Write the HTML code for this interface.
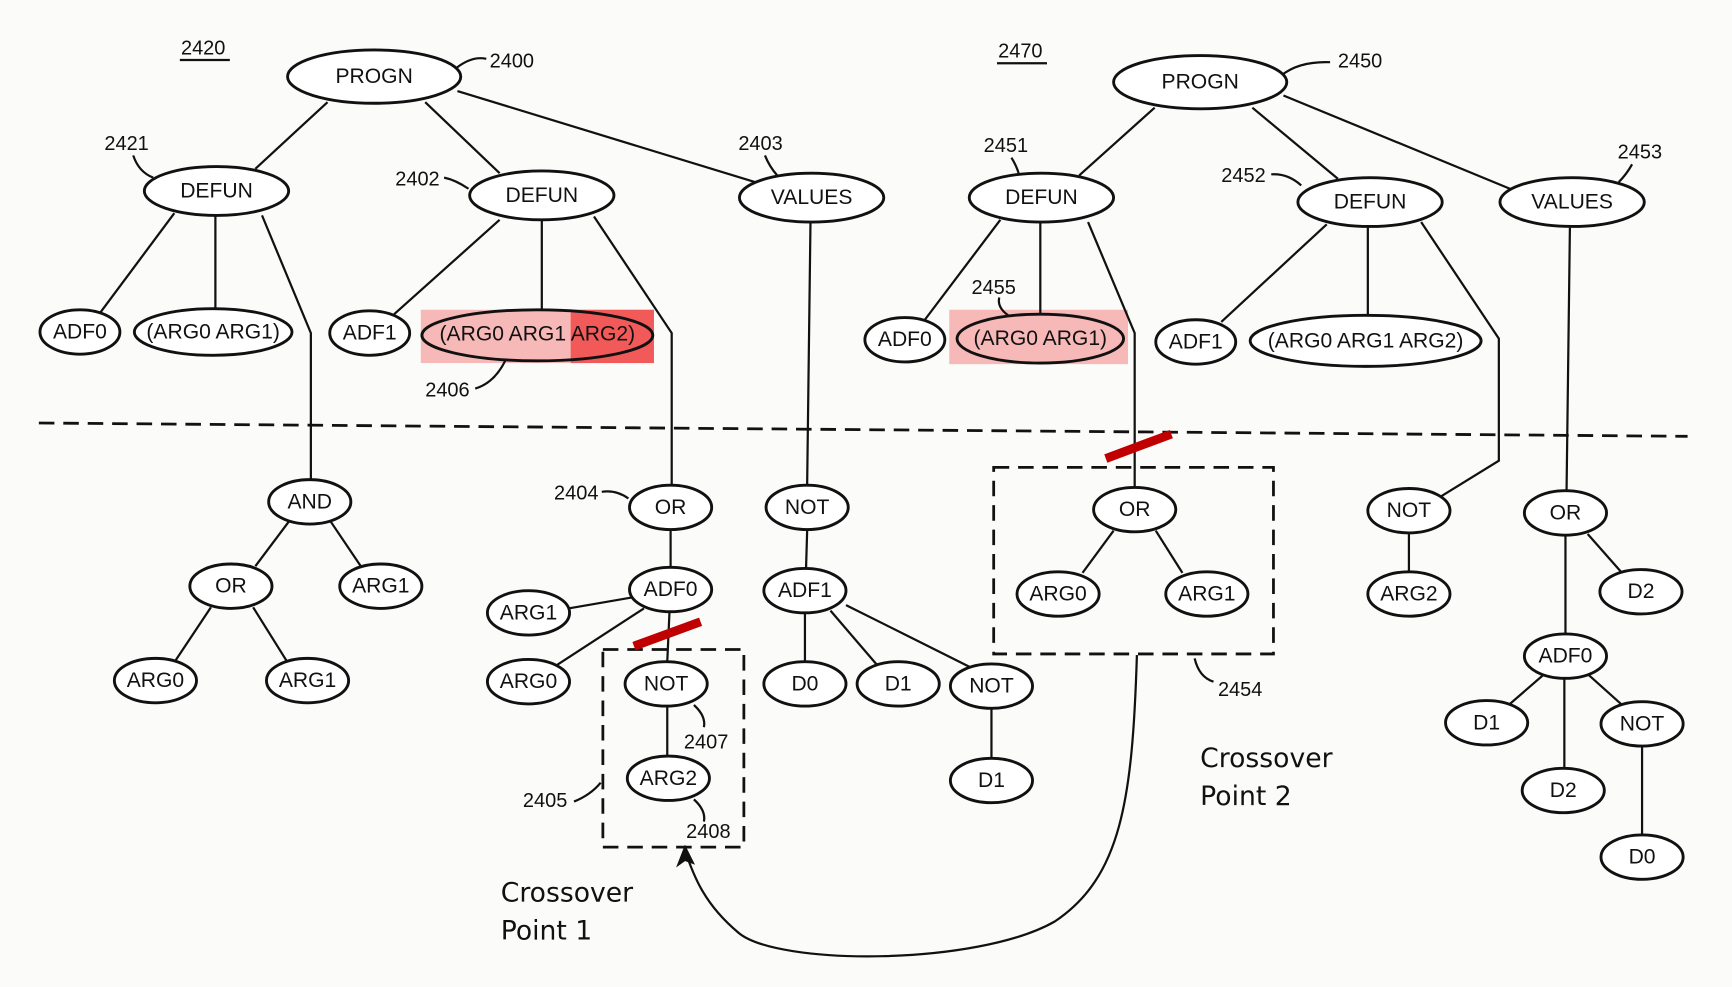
<!DOCTYPE html>
<html><head><style>
html,body{margin:0;padding:0;background:#fbfbf9;}
svg{display:block;}
text{font-family:"Liberation Sans",sans-serif;fill:#111;}
.n{font-size:19px;text-anchor:middle;dominant-baseline:central;}
.l{font-size:18px;}
.c{font-family:"DejaVu Sans","Liberation Sans",sans-serif;font-size:24px;}
ellipse{fill:#fff;stroke:#111;stroke-width:2.6;}
line,path,polyline{stroke:#111;stroke-width:2;fill:none;}
</style></head><body>
<svg width="1732" height="987" viewBox="0 0 1560 889" preserveAspectRatio="none" xmlns="http://www.w3.org/2000/svg">
<rect width="1560" height="889" fill="#fbfbf9"/>
<!-- highlights -->
<rect x="379" y="279" width="210" height="48" fill="#f7b8b8"/>
<rect x="514" y="279" width="75" height="48" fill="#f25a5a"/>
<rect x="855" y="279" width="161" height="49" fill="#f7b8b8"/>
<!-- dashed separator -->
<line x1="35" y1="381" x2="1520" y2="393" stroke-dasharray="14,8" style="stroke-width:2.5"/>
<!-- boxes -->
<rect x="543" y="585" width="127" height="178" stroke="#111" stroke-width="2.5" fill="none" stroke-dasharray="14,8"/>
<rect x="895" y="421" width="252" height="168" stroke="#111" stroke-width="2.5" fill="none" stroke-dasharray="14,8"/>
<!-- edges left -->
<line x1="295" y1="92" x2="230" y2="152"/>
<line x1="383" y1="92" x2="450" y2="156"/>
<line x1="412" y1="82" x2="680" y2="164"/>
<line x1="157" y1="192" x2="90" y2="282"/>
<line x1="194" y1="194" x2="194" y2="278"/>
<polyline points="236,194 280,300 280,432"/>
<line x1="450" y1="198" x2="355" y2="283"/>
<line x1="488" y1="198" x2="488" y2="279"/>
<polyline points="535,195 605,300 605,436"/>
<line x1="730" y1="200" x2="727" y2="436"/>
<line x1="260" y1="470" x2="230" y2="510"/>
<line x1="298" y1="470" x2="325" y2="510"/>
<line x1="190" y1="547" x2="158" y2="595"/>
<line x1="228" y1="547" x2="258" y2="595"/>
<line x1="604" y1="478" x2="604" y2="511"/>
<line x1="570" y1="538" x2="512" y2="548"/>
<line x1="580" y1="548" x2="500" y2="600"/>
<line x1="603" y1="551" x2="601" y2="596"/>
<line x1="601" y1="636" x2="601" y2="681"/>
<line x1="727" y1="478" x2="726" y2="512"/>
<line x1="725" y1="553" x2="725" y2="596"/>
<line x1="748" y1="550" x2="790" y2="599"/>
<line x1="762" y1="545" x2="876" y2="602"/>
<line x1="893" y1="639" x2="893" y2="683"/>
<!-- edges right -->
<line x1="1040" y1="97" x2="972" y2="158"/>
<line x1="1128" y1="97" x2="1205" y2="161"/>
<line x1="1156" y1="86" x2="1360" y2="170"/>
<line x1="901" y1="198" x2="833" y2="288"/>
<line x1="937" y1="200" x2="937" y2="284"/>
<polyline points="980,200 1022,300 1022,438"/>
<line x1="1195" y1="202" x2="1100" y2="290"/>
<line x1="1232" y1="204" x2="1232" y2="285"/>
<polyline points="1280,200 1350,305 1350,415 1298,447"/>
<line x1="1414" y1="205" x2="1411" y2="441"/>
<line x1="1003" y1="478" x2="975" y2="516"/>
<line x1="1041" y1="478" x2="1065" y2="516"/>
<line x1="1269" y1="481" x2="1269" y2="515"/>
<line x1="1410" y1="483" x2="1410" y2="571"/>
<line x1="1430" y1="481" x2="1460" y2="515"/>
<line x1="1390" y1="608" x2="1360" y2="634"/>
<line x1="1409" y1="612" x2="1409" y2="692"/>
<line x1="1431" y1="608" x2="1460" y2="634"/>
<line x1="1479" y1="673" x2="1479" y2="752"/>
<!-- red slashes -->
<line x1="571" y1="582" x2="631" y2="560" style="stroke:#c00000;stroke-width:8"/>
<line x1="996" y1="413" x2="1055" y2="391" style="stroke:#c00000;stroke-width:8"/>
<!-- crossover arrow -->
<path d="M1024,590 C1020,720 1010,790 950,830 C880,870 700,870 665,840 C635,815 625,790 617,766"/>
<path d="M617,762 L610,780 L617,775 L625,778 Z" style="fill:#111;stroke-width:1"/>
<!-- leaders -->
<path d="M410,62 Q425,50 438,53"/>
<path d="M120,140 Q125,155 138,160"/>
<path d="M400,160 Q410,162 422,170"/>
<path d="M689,140 Q693,150 700,158"/>
<path d="M428,350 Q445,345 455,325"/>
<path d="M542,443 Q555,441 566,449"/>
<path d="M625,635 Q636,645 634,655"/>
<path d="M625,720 Q636,730 634,740"/>
<path d="M517,722 Q532,716 541,705"/>
<path d="M1154,68 Q1170,55 1198,56"/>
<path d="M911,142 Q916,150 918,158"/>
<path d="M1145,157 Q1160,156 1172,167"/>
<path d="M1470,148 Q1465,157 1458,164"/>
<path d="M900,268 Q898,277 908,284"/>
<path d="M1076,593 Q1080,610 1093,614"/>
<!-- nodes -->
<g>
<ellipse cx="337" cy="69" rx="78" ry="24"/><text class="n" x="337" y="69">PROGN</text>
<ellipse cx="195" cy="172" rx="65" ry="22"/><text class="n" x="195" y="172">DEFUN</text>
<ellipse cx="488" cy="176" rx="65" ry="22"/><text class="n" x="488" y="176">DEFUN</text>
<ellipse cx="731" cy="178" rx="65" ry="22"/><text class="n" x="731" y="178">VALUES</text>
<ellipse cx="72" cy="299" rx="36" ry="20"/><text class="n" x="72" y="299">ADF0</text>
<ellipse cx="192" cy="299" rx="71" ry="21"/><text class="n" x="192" y="299">(ARG0 ARG1)</text>
<ellipse cx="333" cy="300" rx="36" ry="20"/><text class="n" x="333" y="300">ADF1</text>
<ellipse cx="484" cy="302" rx="104" ry="23" fill="none" style="fill:none"/><text class="n" x="484" y="301">(ARG0 ARG1 ARG2)</text>
<ellipse cx="279" cy="452" rx="37" ry="20"/><text class="n" x="279" y="452">AND</text>
<ellipse cx="208" cy="528" rx="37" ry="20"/><text class="n" x="208" y="528">OR</text>
<ellipse cx="343" cy="528" rx="37" ry="20"/><text class="n" x="343" y="528">ARG1</text>
<ellipse cx="140" cy="613" rx="37" ry="20"/><text class="n" x="140" y="613">ARG0</text>
<ellipse cx="277" cy="613" rx="37" ry="20"/><text class="n" x="277" y="613">ARG1</text>
<ellipse cx="604" cy="457" rx="37" ry="20"/><text class="n" x="604" y="457">OR</text>
<ellipse cx="604" cy="531" rx="37" ry="20"/><text class="n" x="604" y="531">ADF0</text>
<ellipse cx="476" cy="552" rx="37" ry="20"/><text class="n" x="476" y="552">ARG1</text>
<ellipse cx="476" cy="614" rx="37" ry="20"/><text class="n" x="476" y="614">ARG0</text>
<ellipse cx="600" cy="616" rx="37" ry="20"/><text class="n" x="600" y="616">NOT</text>
<ellipse cx="602" cy="701" rx="37" ry="20"/><text class="n" x="602" y="701">ARG2</text>
<ellipse cx="727" cy="457" rx="37" ry="20"/><text class="n" x="727" y="457">NOT</text>
<ellipse cx="725" cy="532" rx="37" ry="20"/><text class="n" x="725" y="532">ADF1</text>
<ellipse cx="725" cy="616" rx="37" ry="20"/><text class="n" x="725" y="616">D0</text>
<ellipse cx="809" cy="616" rx="37" ry="20"/><text class="n" x="809" y="616">D1</text>
<ellipse cx="893" cy="618" rx="37" ry="20"/><text class="n" x="893" y="618">NOT</text>
<ellipse cx="893" cy="703" rx="37" ry="20"/><text class="n" x="893" y="703">D1</text>

<ellipse cx="1081" cy="74" rx="78" ry="24"/><text class="n" x="1081" y="74">PROGN</text>
<ellipse cx="938" cy="178" rx="65" ry="22"/><text class="n" x="938" y="178">DEFUN</text>
<ellipse cx="1234" cy="182" rx="65" ry="22"/><text class="n" x="1234" y="182">DEFUN</text>
<ellipse cx="1416" cy="182" rx="65" ry="22"/><text class="n" x="1416" y="182">VALUES</text>
<ellipse cx="815" cy="306" rx="36" ry="20"/><text class="n" x="815" y="306">ADF0</text>
<ellipse cx="937" cy="305" rx="75" ry="22" style="fill:none"/><text class="n" x="937" y="305">(ARG0 ARG1)</text>
<ellipse cx="1077" cy="308" rx="36" ry="20"/><text class="n" x="1077" y="308">ADF1</text>
<ellipse cx="1230" cy="307" rx="104" ry="23"/><text class="n" x="1230" y="307">(ARG0 ARG1 ARG2)</text>
<ellipse cx="1022" cy="459" rx="37" ry="20"/><text class="n" x="1022" y="459">OR</text>
<ellipse cx="953" cy="535" rx="37" ry="20"/><text class="n" x="953" y="535">ARG0</text>
<ellipse cx="1087" cy="535" rx="37" ry="20"/><text class="n" x="1087" y="535">ARG1</text>
<ellipse cx="1269" cy="460" rx="37" ry="20"/><text class="n" x="1269" y="460">NOT</text>
<ellipse cx="1269" cy="535" rx="37" ry="20"/><text class="n" x="1269" y="535">ARG2</text>
<ellipse cx="1410" cy="462" rx="37" ry="20"/><text class="n" x="1410" y="462">OR</text>
<ellipse cx="1478" cy="533" rx="37" ry="20"/><text class="n" x="1478" y="533">D2</text>
<ellipse cx="1410" cy="591" rx="37" ry="20"/><text class="n" x="1410" y="591">ADF0</text>
<ellipse cx="1339" cy="651" rx="37" ry="20"/><text class="n" x="1339" y="651">D1</text>
<ellipse cx="1479" cy="652" rx="37" ry="20"/><text class="n" x="1479" y="652">NOT</text>
<ellipse cx="1408" cy="712" rx="37" ry="20"/><text class="n" x="1408" y="712">D2</text>
<ellipse cx="1479" cy="772" rx="37" ry="20"/><text class="n" x="1479" y="772">D0</text>
</g>
<!-- labels -->
<text class="l" x="163" y="49">2420</text><line x1="162" y1="54" x2="207" y2="54"/>
<text class="l" x="441" y="61">2400</text>
<text class="l" x="94" y="135">2421</text>
<text class="l" x="356" y="167">2402</text>
<text class="l" x="665" y="135">2403</text>
<text class="l" x="383" y="357">2406</text>
<text class="l" x="499" y="450">2404</text>
<text class="l" x="616" y="674">2407</text>
<text class="l" x="618" y="755">2408</text>
<text class="l" x="471" y="727">2405</text>
<text class="l" x="899" y="52">2470</text><line x1="898" y1="57" x2="943" y2="57"/>
<text class="l" x="1205" y="61">2450</text>
<text class="l" x="886" y="137">2451</text>
<text class="l" x="1100" y="164">2452</text>
<text class="l" x="1457" y="143">2453</text>
<text class="l" x="875" y="265">2455</text>
<text class="l" x="1097" y="627">2454</text>
<text class="c" x="451" y="812">Crossover</text>
<text class="c" x="451" y="846">Point 1</text>
<text class="c" x="1081" y="691">Crossover</text>
<text class="c" x="1081" y="725">Point 2</text>
</svg>
</body></html>
